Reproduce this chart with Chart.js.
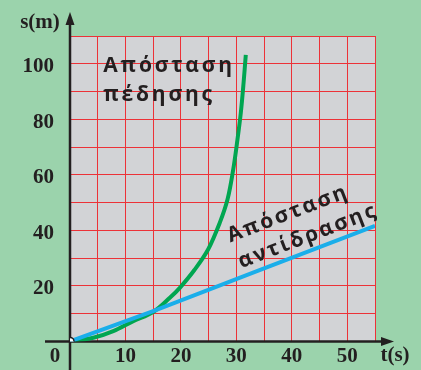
<!DOCTYPE html>
<html>
<head>
<meta charset="utf-8">
<script src="https://cdn.jsdelivr.net/npm/chart.js@4"></script>
<style>
  html, body { margin: 0; padding: 0; background: #9bd3ac; }
  #c { display: block; }
</style>
</head>
<body>
<canvas id="c" width="421" height="370"></canvas>
<script>
// time (s) and distance (m)
var brakeT = [0.9, 4.2, 7.8, 11.4, 15.0, 18.0, 19.8, 22.5, 24.9, 27.0, 28.4, 29.4, 30.2, 30.8, 31.3, 31.7];
var brakeS = [0.4, 1.3, 3.7, 7.3, 10.6, 15.7, 19.3, 25.9, 33.1, 42.7, 51.1, 61.5, 72.7, 82.3, 93.1, 103.2];
var reactT = [0, 15, 35, 55];
var reactS = [0, 10.9, 26.3, 41.6];

var labelBrake = ['Απόσταση', 'πέδησης'];
var labelReact = ['Απόσταση', 'αντίδρασης'];

var ink = '#231f20';
var red = '#ec3238';
var green = '#00a651';
var blue = '#1aaeea';

function pts(xs, ys) {
  var out = [];
  for (var i = 0; i < xs.length; i++) out.push({x: xs[i], y: ys[i]});
  return out;
}

var decor = {
  id: 'decor',
  beforeDraw: function(chart) {
    var ctx = chart.ctx, a = chart.chartArea;
    ctx.save();
    ctx.fillStyle = '#9bd3ac';
    ctx.fillRect(0, 0, chart.width, chart.height);
    ctx.fillStyle = '#d2d3d6';
    ctx.fillRect(a.left, a.top, a.right - a.left, a.bottom - a.top);
    ctx.restore();
  },
  beforeDatasetsDraw: function(chart) {
    var ctx = chart.ctx;
    var x0 = chart.scales.x.getPixelForValue(0);
    var y0 = chart.scales.y.getPixelForValue(0);
    ctx.save();
    ctx.strokeStyle = ink;
    ctx.fillStyle = ink;
    ctx.lineWidth = 2.5;
    // vertical axis with arrow
    ctx.beginPath();
    ctx.moveTo(x0, chart.height);
    ctx.lineTo(x0, 22);
    ctx.stroke();
    ctx.beginPath();
    ctx.moveTo(x0, 12);
    ctx.lineTo(x0 - 4.5, 25);
    ctx.lineTo(x0 + 4.5, 25);
    ctx.closePath();
    ctx.fill();
    // horizontal axis with arrow
    ctx.beginPath();
    ctx.moveTo(45, y0);
    ctx.lineTo(384, y0);
    ctx.stroke();
    ctx.beginPath();
    ctx.moveTo(394, y0);
    ctx.lineTo(381, y0 - 4.5);
    ctx.lineTo(381, y0 + 4.5);
    ctx.closePath();
    ctx.fill();

    ctx.font = 'bold 21px "Liberation Serif"';
    ctx.textBaseline = 'middle';
    ctx.textAlign = 'center';
    ctx.fillText('s(m)', 40, 23);
    ctx.fillText('t(s)', 395, 356);
    ctx.fillText('0', 55, 357);
    ctx.restore();
  },
  afterDraw: function(chart) {
    var ctx = chart.ctx, sx = chart.scales.x, sy = chart.scales.y;
    ctx.save();
    ctx.fillStyle = ink;
    ctx.font = 'bold 21px "Open Sans"';
    ctx.letterSpacing = '2.8px';
    ctx.textAlign = 'left';
    ctx.textBaseline = 'alphabetic';
    var bx = sx.getPixelForValue(6), by = sy.getPixelForValue(97);
    ctx.fillText(labelBrake[0], bx, by);
    ctx.fillText(labelBrake[1], bx, by + 29);

    ctx.translate(sx.getPixelForValue(28.9), sy.getPixelForValue(35.6));
    ctx.rotate(-21 * Math.PI / 180);
    ctx.letterSpacing = '2.4px';
    ctx.fillText(labelReact[0], 0, 0);
    ctx.fillText(labelReact[1], 1, 28);
    ctx.restore();
  }
};

new Chart(document.getElementById('c'), {
  type: 'scatter',
  data: {
    datasets: [
      {
        data: pts(reactT, reactS),
        showLine: true,
        borderColor: blue,
        borderWidth: 4,
        pointRadius: [4, 0, 0, 0],
        pointBackgroundColor: '#ffffff',
        pointBorderColor: ink,
        pointBorderWidth: 1.5,
        order: 1
      },
      {
        data: pts(brakeT, brakeS),
        showLine: true,
        borderColor: green,
        borderWidth: 4,
        pointRadius: 0,
        tension: 0.35,
        order: 2
      }
    ]
  },
  options: {
    responsive: false,
    animation: false,
    devicePixelRatio: 1,
    layout: { padding: { top: 36, right: 46, left: 0, bottom: 0 } },
    plugins: { legend: { display: false }, tooltip: { enabled: false } },
    scales: {
      x: {
        type: 'linear',
        min: 0, max: 55,
        afterFit: function(s) { s.height = 28; },
        grid: { color: red, lineWidth: 1, drawTicks: false },
        border: { display: false },
        ticks: {
          stepSize: 5,
          autoSkip: false,
          maxRotation: 0,
          padding: 3,
          color: ink,
          font: { family: 'Liberation Serif', weight: 'bold', size: 21 },
          callback: function(v) { return (v % 10 === 0 && v > 0 && v < 55) ? v : ''; }
        }
      },
      y: {
        type: 'linear',
        min: 0, max: 110,
        afterFit: function(s) { s.width = 70; },
        grid: { color: red, lineWidth: 1, drawTicks: false },
        border: { display: false },
        ticks: {
          stepSize: 10,
          autoSkip: false,
          padding: 16,
          labelOffset: 3,
          color: ink,
          font: { family: 'Liberation Serif', weight: 'bold', size: 21 },
          callback: function(v) { return (v % 20 === 0 && v > 0 && v < 110) ? v : ''; }
        }
      }
    }
  },
  plugins: [decor]
});
</script>
</body>
</html>
